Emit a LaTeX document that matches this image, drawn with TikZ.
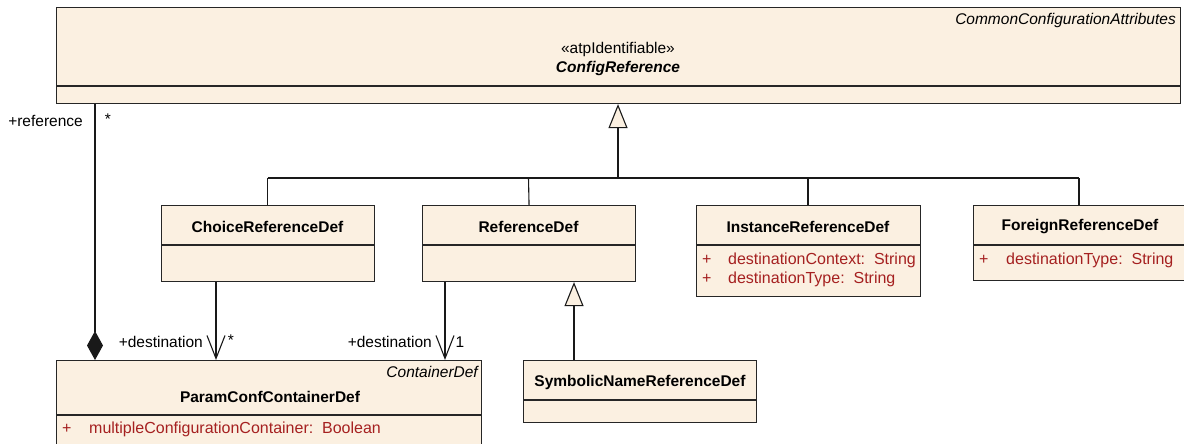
\documentclass[tikz,border=0pt]{standalone}
\usepackage{fontspec}
\setmainfont{Liberation Sans}
\usetikzlibrary{arrows.meta}
\definecolor{beige}{RGB}{251,240,225}
\definecolor{attred}{RGB}{165,32,32}
\tikzset{
  cls/.style={draw=black!85, fill=beige, line width=1.1pt, inner sep=0pt, anchor=north west},
  divider/.style={draw=black!85, line width=1.1pt},
  txt/.style={inner sep=0pt, font=\fontsize{15.5pt}{18pt}\selectfont},
  title/.style={txt, font=\fontsize{15.5pt}{18pt}\selectfont\bfseries},
  ital/.style={txt, font=\fontsize{15.5pt}{18pt}\selectfont\itshape},
  attr/.style={txt, text=attred, anchor=west, font=\fontsize{16pt}{18pt}\selectfont},
  conn/.style={draw=black!90, line width=1.1pt},
  gen/.style={conn, {Triangle[length=24pt,width=19pt,fill=beige]}-},
  assoc/.style={conn, -{Straight Barb[length=23pt,width=18pt,line width=1.1pt]}},
  comp/.style={conn, -{Diamond[length=29pt,width=16pt]}},
}
\begin{document}
\begin{tikzpicture}[x=1pt,y=-1pt]
\useasboundingbox (0,0) rectangle (1184,444);
\clip (0,0) rectangle (1184,444);
% ConfigReference
\node[cls, minimum width=1124pt, minimum height=96pt] (cfg) at (56,7) {};
\draw[divider] (cfg.west |- 0,86) -- (cfg.east |- 0,86);
\node[ital, anchor=east] (cfgpkg) at (1176,20) {CommonConfigurationAttributes};
\node[txt] (cfgst) at (618,49) {«atpIdentifiable»};
\node[txt, font=\fontsize{15.5pt}{18pt}\selectfont\bfseries\itshape] (cfgname) at (618,68) {ConfigReference};
% ChoiceReferenceDef
\node[cls, minimum width=213pt, minimum height=76pt] (choice) at (161,205) {};
\draw[divider] (choice.west |- 0,245) -- (choice.east |- 0,245);
\node[title] (choicename) at (267.5,227) {ChoiceReferenceDef};
% ReferenceDef
\node[cls, minimum width=213pt, minimum height=76pt] (ref) at (422,205) {};
\draw[divider] (ref.west |- 0,245) -- (ref.east |- 0,245);
\node[title] (refname) at (528.5,227) {ReferenceDef};
% InstanceReferenceDef
\node[cls, minimum width=224pt, minimum height=91pt] (inst) at (696,205) {};
\draw[divider] (inst.west |- 0,245) -- (inst.east |- 0,245);
\node[title] (instname) at (808,227) {InstanceReferenceDef};
\node[attr] (instp1) at (702,260) {+};
\node[attr] (insta1) at (728,260) {destinationContext:\ \ String};
\node[attr] (instp2) at (702,279) {+};
\node[attr] (insta2) at (728,279) {destinationType:\ \ String};
% ForeignReferenceDef
\node[cls, minimum width=230pt, minimum height=75pt] (foreign) at (973,205) {};
\draw[divider] (foreign.west |- 0,245) -- (foreign.east |- 0,245);
\node[title] (foreignname) at (1080,227) {ForeignReferenceDef};
\node[attr] (forp1) at (979,260) {+};
\node[attr] (fora1) at (1006,260) {destinationType:\ \ String};
% SymbolicNameReferenceDef
\node[cls, minimum width=233pt, minimum height=62pt] (sym) at (523,360) {};
\draw[divider] (sym.west |- 0,400) -- (sym.east |- 0,400);
\node[title] (symname) at (640,382) {SymbolicNameReferenceDef};
% ParamConfContainerDef
\node[cls, minimum width=425pt, minimum height=110pt] (param) at (56,360) {};
\draw[divider] (param.west |- 0,415) -- (param.east |- 0,415);
\node[ital, anchor=east] (parampkg) at (478,372) {ContainerDef};
\node[title] (paramname) at (270,397) {ParamConfContainerDef};
\node[attr] (paramp1) at (62,429) {+};
\node[attr] (parama1) at (89,429) {multipleConfigurationContainer:\ \ Boolean};
% generalization tree
\coordinate (treeL) at (267.5,178);
\coordinate (treeR) at (1079,178);
\coordinate (treeM) at (618,178);
\draw[conn] (treeL) -- (treeR);
\draw[conn] (treeL) -- (choice.north -| treeL);
\draw[conn] (528.5,178) -- (ref.north);
\draw[conn] (808,178) -- (inst.north -| 808,0);
\draw[conn] (treeR) -- (foreign.north -| treeR);
\draw[gen] (cfg.south -| treeM) -- (treeM);
% SymbolicName -> ReferenceDef
\draw[gen] (ref.south -| 574,0) -- (sym.north -| 574,0);
% composition
\draw[comp] (cfg.south -| 95,0) -- (param.north -| 95,0);
\node[txt, anchor=east] (reflbl) at (83,121) {+reference};
\node[txt] (refmult) at (108,119) {*};
% associations
\draw[assoc] (choice.south -| 216,0) -- (param.north -| 216,0);
\node[txt, anchor=east] (dest1) at (203,342) {+destination};
\node[txt] (mult1) at (231,340) {*};
\draw[assoc] (ref.south -| 445,0) -- (param.north -| 445,0);
\node[txt, anchor=east] (dest2) at (432,342) {+destination};
\node[txt] (mult2) at (460,342) {1};
\end{tikzpicture}
\end{document}
